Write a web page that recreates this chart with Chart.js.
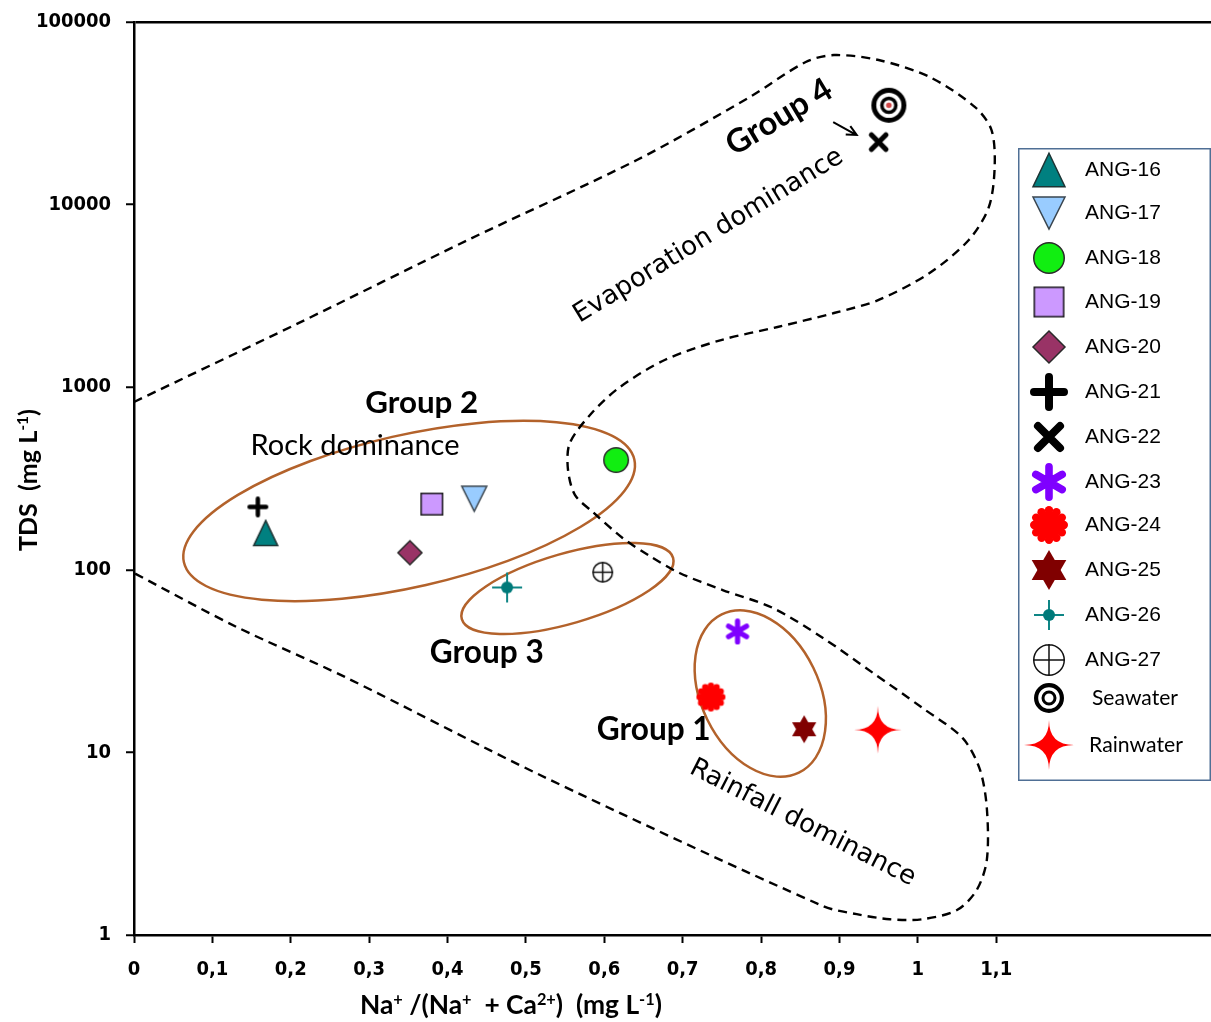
<!DOCTYPE html>
<html>
<head>
<meta charset="utf-8">
<script src="https://cdn.jsdelivr.net/npm/chart.js@4.4.1/dist/chart.umd.min.js"></script>
<style>
  html, body { margin: 0; padding: 0; background: #fff; }
</style>
</head>
<body>
<canvas id="gibbs" width="1211" height="1022"></canvas>
<script>
// samples (Na/(Na+Ca) ratio vs TDS in mg/L)
const sampleLabels = ["ANG-16", "ANG-17", "ANG-18", "ANG-19", "ANG-20", "ANG-21", "ANG-22",
  "ANG-23", "ANG-24", "ANG-25", "ANG-26", "ANG-27", "Seawater", "Rainwater"]
const naRatio = [0.168, 0.434, 0.615, 0.380, 0.352, 0.158, 0.950, 0.770, 0.736, 0.855, 0.476, 0.598, 0.963, 0.949]
const tdsValues = [159, 245, 399, 229, 124, 221, 22000, 46, 20.1, 13.4, 80, 97, 35000, 13.3]

// Gibbs boundary, traced clockwise from the left axis
const boundaryX = [0, 0.2105, 0.426, 0.6416, 0.7857, 0.857, 0.893, 0.950, 1.015, 1.073, 1.094, 1.098,
  1.0906, 1.065, 1.015, 0.950, 0.893, 0.821, 0.749, 0.677, 0.620, 0.584, 0.556, 0.5536, 0.5625,
  0.5855, 0.6237, 0.658, 0.696, 0.751, 0.815, 0.879, 0.943, 1.006, 1.057, 1.079, 1.088, 1.088,
  1.075, 1.050, 1.006, 0.964, 0.922, 0.879, 0.518, 0.269, 0.131, 0]
const boundaryY = [830, 2250, 6400, 17550, 38850, 60400, 65900, 61900, 50000, 34200, 25600, 16070,
  9700, 6400, 4220, 3005, 2548, 2136, 1812, 1409, 1002, 722, 495, 356, 257,
  207, 149, 119, 96, 77.5, 61.8, 42.3, 27.2, 17.5, 12.0, 8.1, 4.96, 2.57,
  1.76, 1.37, 1.22, 1.22, 1.30, 1.44, 7.52, 25.9, 48.6, 96]

const xTicks = [0, 0.1, 0.2, 0.3, 0.4, 0.5, 0.6, 0.7, 0.8, 0.9, 1, 1.1]
const yTicks = [1, 10, 100, 1000, 10000, 100000]

// ---- styling / layout ----
const markerStyles = [
  { kind: "triUp", plot: 24, legend: 32 },
  { kind: "triDown", plot: 25, legend: 32 },
  { kind: "circle", plot: 26, legend: 32 },
  { kind: "square", plot: 23, legend: 31 },
  { kind: "diamond", plot: 24, legend: 32 },
  { kind: "plus", plot: 21, legend: 38 },
  { kind: "cross", plot: 21, legend: 32 },
  { kind: "asterisk", plot: 26, legend: 38 },
  { kind: "flower", plot: 29, legend: 38 },
  { kind: "hexagram", plot: 28, legend: 40 },
  { kind: "crosshair", plot: 30, legend: 30 },
  { kind: "circleCross", plot: 21, legend: 32 },
  { kind: "rings", plot: 35, legend: 30 },
  { kind: "sparkle", plot: 48, legend: 50 }
]

const groupEllipses = [
  { x: 0.351, y: 210, rx: 231, ry: 76, angle: -12.85 },
  { x: 0.553, y: 79, rx: 110, ry: 35, angle: -16.2 },
  { x: 0.799, y: 21, rx: 88, ry: 59, angle: 64 }
]

const bold = { weight: "bold", family: "Lato, 'Open Sans', sans-serif" }
const plain = { weight: "normal", family: "Lato, 'Open Sans', sans-serif" }
const dejavu = { weight: "normal", family: "'DejaVu Sans', sans-serif" }

const labels = [
  { text: "Group 2", x: 0.367, y: 819, spec: bold, width: 113, angle: 0 },
  { text: "Rock dominance", x: 0.282, y: 476, spec: plain, width: 209, angle: 0 },
  { text: "Group 3", x: 0.450, y: 35, spec: bold, width: 114, angle: 0 },
  { text: "Group 1", x: 0.663, y: 13.3, spec: bold, width: 114, angle: 0 },
  { text: "Group 4", x: 0.823, y: 30200, spec: bold, width: 118, angle: -31 },
  { text: "Evaporation dominance", x: 0.733, y: 6730, spec: dejavu, width: 311, angle: -31.5 },
  { text: "Rainfall dominance", x: 0.853, y: 4.1, spec: dejavu, width: 250, angle: 27 }
]

const legendBox = { left: 1018, top: 148, right: 1211, bottom: 781 }
const legendRowY = [170, 213, 258, 302, 347, 392, 437, 482, 525, 570, 615, 660, 698, 745]

function drawMarker(ctx, kind, size, forLegend) {
  const r = size / 2
  ctx.lineJoin = "miter"
  ctx.beginPath()
  switch (kind) {
    case "triUp": {
      const h = size * 1.05
      ctx.moveTo(0, -h / 2); ctx.lineTo(r, h / 2); ctx.lineTo(-r, h / 2); ctx.closePath()
      ctx.fillStyle = "#008080"; ctx.fill()
      ctx.strokeStyle = "#1d3434"; ctx.lineWidth = 1.5; ctx.stroke()
      break
    }
    case "triDown": {
      const h = size
      ctx.moveTo(-r, -h / 2); ctx.lineTo(r, -h / 2); ctx.lineTo(0, h / 2); ctx.closePath()
      ctx.fillStyle = "#99CCFF"; ctx.fill()
      ctx.strokeStyle = "#3a4650"; ctx.lineWidth = 1.5; ctx.stroke()
      break
    }
    case "circle":
      ctx.arc(0, 0, r - 0.75, 0, Math.PI * 2)
      ctx.fillStyle = "#11EE11"; ctx.fill()
      ctx.strokeStyle = "#2a2a2a"; ctx.lineWidth = 1.5; ctx.stroke()
      break
    case "square":
      ctx.rect(-r + 0.75, -r + 0.75, size - 1.5, size - 1.5)
      ctx.fillStyle = "#CC99FF"; ctx.fill()
      ctx.strokeStyle = "#1a1a1a"; ctx.lineWidth = 1.5; ctx.stroke()
      break
    case "diamond":
      ctx.moveTo(0, -r); ctx.lineTo(r, 0); ctx.lineTo(0, r); ctx.lineTo(-r, 0); ctx.closePath()
      ctx.fillStyle = "#993366"; ctx.fill()
      ctx.strokeStyle = "#2a2a2a"; ctx.lineWidth = 1.5; ctx.stroke()
      break
    case "plus":
    case "cross": {
      const lw = size * (kind === "plus" ? 0.21 : 0.25)
      const a = r - lw / 2
      ctx.save()
      if (kind === "cross") ctx.rotate(Math.PI / 4)
      const arm = kind === "cross" ? a * 1.3 : a
      ctx.moveTo(-arm, 0); ctx.lineTo(arm, 0); ctx.moveTo(0, -arm); ctx.lineTo(0, arm)
      ctx.strokeStyle = "#000"; ctx.lineWidth = lw; ctx.lineCap = "round"; ctx.stroke()
      ctx.restore()
      break
    }
    case "asterisk": {
      const lw = size * 0.2
      const a = r - lw / 2
      for (const deg of [90, 30, -30]) {
        const t = deg * Math.PI / 180
        ctx.moveTo(-a * Math.cos(t), -a * Math.sin(t)); ctx.lineTo(a * Math.cos(t), a * Math.sin(t))
      }
      ctx.strokeStyle = "#7F00FF"; ctx.lineWidth = lw; ctx.lineCap = "round"; ctx.stroke()
      break
    }
    case "flower": {
      ctx.fillStyle = "#FF0000"
      ctx.arc(0, 0, r * 0.72, 0, Math.PI * 2); ctx.fill()
      for (let k = 0; k < 12; k++) {
        const t = k * Math.PI / 6
        ctx.beginPath(); ctx.arc(r * 0.78 * Math.cos(t), r * 0.78 * Math.sin(t), r * 0.22, 0, Math.PI * 2); ctx.fill()
      }
      break
    }
    case "hexagram": {
      ctx.fillStyle = "#800000"
      for (const off of [-90, 90]) {
        ctx.beginPath()
        for (let k = 0; k < 3; k++) {
          const t = (off + k * 120) * Math.PI / 180
          ctx[k ? "lineTo" : "moveTo"](r * Math.cos(t), r * Math.sin(t))
        }
        ctx.closePath(); ctx.fill()
      }
      break
    }
    case "crosshair":
      ctx.moveTo(-r, 0); ctx.lineTo(r, 0); ctx.moveTo(0, -r); ctx.lineTo(0, r)
      ctx.strokeStyle = "#0E8585"; ctx.lineWidth = 2; ctx.stroke()
      ctx.beginPath(); ctx.arc(0, 0, r * 0.4, 0, Math.PI * 2)
      ctx.fillStyle = "#007A7A"; ctx.fill()
      break
    case "circleCross":
      ctx.arc(0, 0, r - 0.75, 0, Math.PI * 2)
      ctx.fillStyle = "#fff"; ctx.fill()
      ctx.moveTo(-r, 0); ctx.lineTo(r, 0); ctx.moveTo(0, -r); ctx.lineTo(0, r)
      ctx.strokeStyle = "#111"; ctx.lineWidth = 1.5; ctx.stroke()
      break
    case "rings": {
      const lo = size * 0.14, li = size * 0.1
      ctx.arc(0, 0, r - lo / 2, 0, Math.PI * 2)
      ctx.strokeStyle = "#000"; ctx.lineWidth = lo; ctx.stroke()
      ctx.beginPath(); ctx.arc(0, 0, r * 0.5 - li / 2, 0, Math.PI * 2)
      ctx.lineWidth = li; ctx.stroke()
      if (!forLegend) {
        ctx.beginPath(); ctx.arc(0, 0, size * 0.08, 0, Math.PI * 2)
        ctx.fillStyle = "#D04848"; ctx.fill()
      }
      break
    }
    case "sparkle": {
      const tips = [[0, -r], [r, 0], [0, r], [-r, 0]]
      ctx.moveTo(tips[0][0], tips[0][1])
      for (let k = 1; k <= 4; k++) {
        const p = tips[k % 4]
        ctx.quadraticCurveTo(0, 0, p[0], p[1])
      }
      ctx.closePath()
      ctx.fillStyle = "#FF0000"; ctx.fill()
      break
    }
  }
}

function markerCanvas(kind, size, forLegend) {
  const c = document.createElement("canvas")
  c.width = c.height = Math.ceil(size) + 12
  const ctx = c.getContext("2d")
  ctx.translate(c.width / 2, c.height / 2)
  drawMarker(ctx, kind, size, forLegend)
  return c
}

const plotMarkers = markerStyles.map(m => markerCanvas(m.kind, m.plot, false))
const legendMarkers = markerStyles.map(m => markerCanvas(m.kind, m.legend, true))

function fontString(spec, size) {
  return `${spec.style || "normal"} ${spec.weight || "normal"} ${size.toFixed(2)}px ${spec.family}`
}

function fitSize(ctx, text, spec, width) {
  ctx.font = fontString(spec, 100)
  return 100 * width / ctx.measureText(text).width
}

// text with superscripts, fitted to a target width
function richText(ctx, parts, spec, width) {
  const measure = size => parts.reduce((w, p) => {
    ctx.font = fontString(spec, p.sup ? size * 0.62 : size)
    return w + ctx.measureText(p.t).width
  }, 0)
  const size = 100 * width / measure(100)
  return {
    size,
    draw(x, y) {
      ctx.textAlign = "left"
      ctx.textBaseline = "alphabetic"
      for (const p of parts) {
        ctx.font = fontString(spec, p.sup ? size * 0.62 : size)
        ctx.fillText(p.t, x, p.sup ? y - size * 0.36 : y)
        x += ctx.measureText(p.t).width
      }
    }
  }
}

const ellipsePlugin = {
  id: "groupEllipses",
  beforeDatasetsDraw(chart) {
    const { ctx, scales } = chart
    ctx.save()
    ctx.strokeStyle = "#B3622B"
    ctx.lineWidth = 2.5
    for (const e of groupEllipses) {
      ctx.beginPath()
      ctx.ellipse(scales.x.getPixelForValue(e.x), scales.y.getPixelForValue(e.y),
        e.rx, e.ry, e.angle * Math.PI / 180, 0, Math.PI * 2)
      ctx.stroke()
    }
    ctx.restore()
  }
}

const annotationPlugin = {
  id: "annotations",
  afterDatasetsDraw(chart) {
    const { ctx, scales } = chart
    ctx.save()
    ctx.fillStyle = "#000"
    for (const l of labels) {
      const size = fitSize(ctx, l.text, l.spec, l.width)
      ctx.save()
      ctx.translate(scales.x.getPixelForValue(l.x), scales.y.getPixelForValue(l.y))
      ctx.rotate(l.angle * Math.PI / 180)
      ctx.font = fontString(l.spec, size)
      ctx.textAlign = "center"
      ctx.textBaseline = "middle"
      ctx.fillText(l.text, 0, 0)
      ctx.restore()
    }

    // arrow pointing at the evaporation end-member
    const x0 = scales.x.getPixelForValue(0.892), y0 = scales.y.getPixelForValue(28300)
    const x1 = scales.x.getPixelForValue(0.922), y1 = scales.y.getPixelForValue(24050)
    const t = Math.atan2(y1 - y0, x1 - x0)
    ctx.strokeStyle = "#000"
    ctx.lineWidth = 2
    ctx.beginPath()
    ctx.moveTo(x0, y0); ctx.lineTo(x1, y1)
    ctx.moveTo(x1 - 11 * Math.cos(t - 0.45), y1 - 11 * Math.sin(t - 0.45))
    ctx.lineTo(x1, y1)
    ctx.lineTo(x1 - 11 * Math.cos(t + 0.45), y1 - 11 * Math.sin(t + 0.45))
    ctx.stroke()
    ctx.restore()
  },
  afterDraw(chart) {
    const { ctx } = chart
    ctx.save()
    ctx.fillStyle = "#000"

    // axis titles
    const xt = richText(ctx, [
      { t: "Na" }, { t: "+", sup: true }, { t: " /(Na" }, { t: "+", sup: true },
      { t: "  + Ca" }, { t: "2+", sup: true }, { t: ")  (mg L" }, { t: "-1", sup: true }, { t: ")" }
    ], bold, 302)
    xt.draw(360, 1014)

    const yt = richText(ctx, [{ t: "TDS  (mg L" }, { t: "-1", sup: true }, { t: ")" }], bold, 142)
    ctx.save()
    ctx.translate(28, 480)
    ctx.rotate(-Math.PI / 2)
    yt.draw(-71, yt.size * 0.35)
    ctx.restore()

    // legend
    const b = legendBox
    ctx.fillStyle = "#fff"
    ctx.fillRect(b.left, b.top, b.right - b.left, b.bottom - b.top)
    ctx.strokeStyle = "#4F6F95"
    ctx.lineWidth = 1.5
    ctx.strokeRect(b.left + 0.75, b.top + 0.75, b.right - b.left - 1.5, b.bottom - b.top - 1.5)
    ctx.fillStyle = "#000"
    ctx.textBaseline = "middle"
    ctx.textAlign = "left"
    sampleLabels.forEach((name, i) => {
      const y = legendRowY[i]
      const m = legendMarkers[i]
      ctx.drawImage(m, 1049 - m.width / 2, y - m.height / 2)
      if (name.startsWith("ANG")) {
        ctx.font = "21px 'Liberation Sans', Arial, sans-serif"
        ctx.fillText(name, 1085, y)
      } else {
        const w = name === "Seawater" ? 86 : 94
        ctx.font = fontString(plain, fitSize(ctx, name, plain, w))
        ctx.fillText(name, name === "Seawater" ? 1092 : 1089, y)
      }
    })
    ctx.restore()
  }
}

const tickFont = { family: "'DejaVu Sans Condensed', 'DejaVu Sans', sans-serif", weight: "bold", size: 20 }

const datasets = sampleLabels.map((name, i) => ({
  type: "scatter",
  label: name,
  data: [{ x: naRatio[i], y: tdsValues[i] }],
  pointStyle: plotMarkers[i],
  pointRadius: 10,
  pointHoverRadius: 10,
  order: 1
}))

datasets.push({
  type: "line",
  label: "Gibbs boundary",
  data: boundaryX.map((x, i) => ({ x, y: boundaryY[i] })),
  borderColor: "#000",
  borderWidth: 2.4,
  borderDash: [9, 6],
  pointRadius: 0,
  tension: 0.3,
  fill: false,
  order: 5
})

new Chart(document.getElementById("gibbs"), {
  type: "scatter",
  data: { datasets },
  options: {
    responsive: false,
    animation: false,
    events: [],
    layout: { autoPadding: false, padding: { top: 22, right: 0, bottom: 0, left: 0 } },
    plugins: { legend: { display: false }, tooltip: { enabled: false } },
    scales: {
      x: {
        type: "linear", min: 0, max: 1.374,
        afterBuildTicks: s => { s.ticks = xTicks.map(v => ({ value: v })) },
        afterFit: s => { s.height = 87; s.paddingRight = 0; s.paddingLeft = 0 },
        grid: { drawOnChartArea: false, tickLength: 8, tickColor: "#000", tickWidth: 2 },
        border: { color: "#000", width: 2.5 },
        ticks: {
          color: "#000", font: tickFont, padding: 15, maxRotation: 0, autoSkip: false,
          callback: v => Number.isInteger(v) ? String(v) : v.toFixed(1).replace(".", ",")
        }
      },
      y: {
        type: "logarithmic", min: 1, max: 100000,
        afterBuildTicks: s => { s.ticks = yTicks.map(v => ({ value: v })) },
        afterFit: s => { s.width = 134; s.paddingTop = 0; s.paddingBottom = 0 },
        grid: {
          color: c => (c.tick && c.tick.value === 100000) ? "#000" : "rgba(0,0,0,0)",
          lineWidth: 2.5, tickLength: 8, tickColor: "#000", tickWidth: 2
        },
        border: { color: "#000", width: 2.5 },
        ticks: { color: "#000", font: tickFont, padding: 15, autoSkip: false, callback: v => String(v) }
      }
    }
  },
  plugins: [ellipsePlugin, annotationPlugin]
})
</script>
</body>
</html>
